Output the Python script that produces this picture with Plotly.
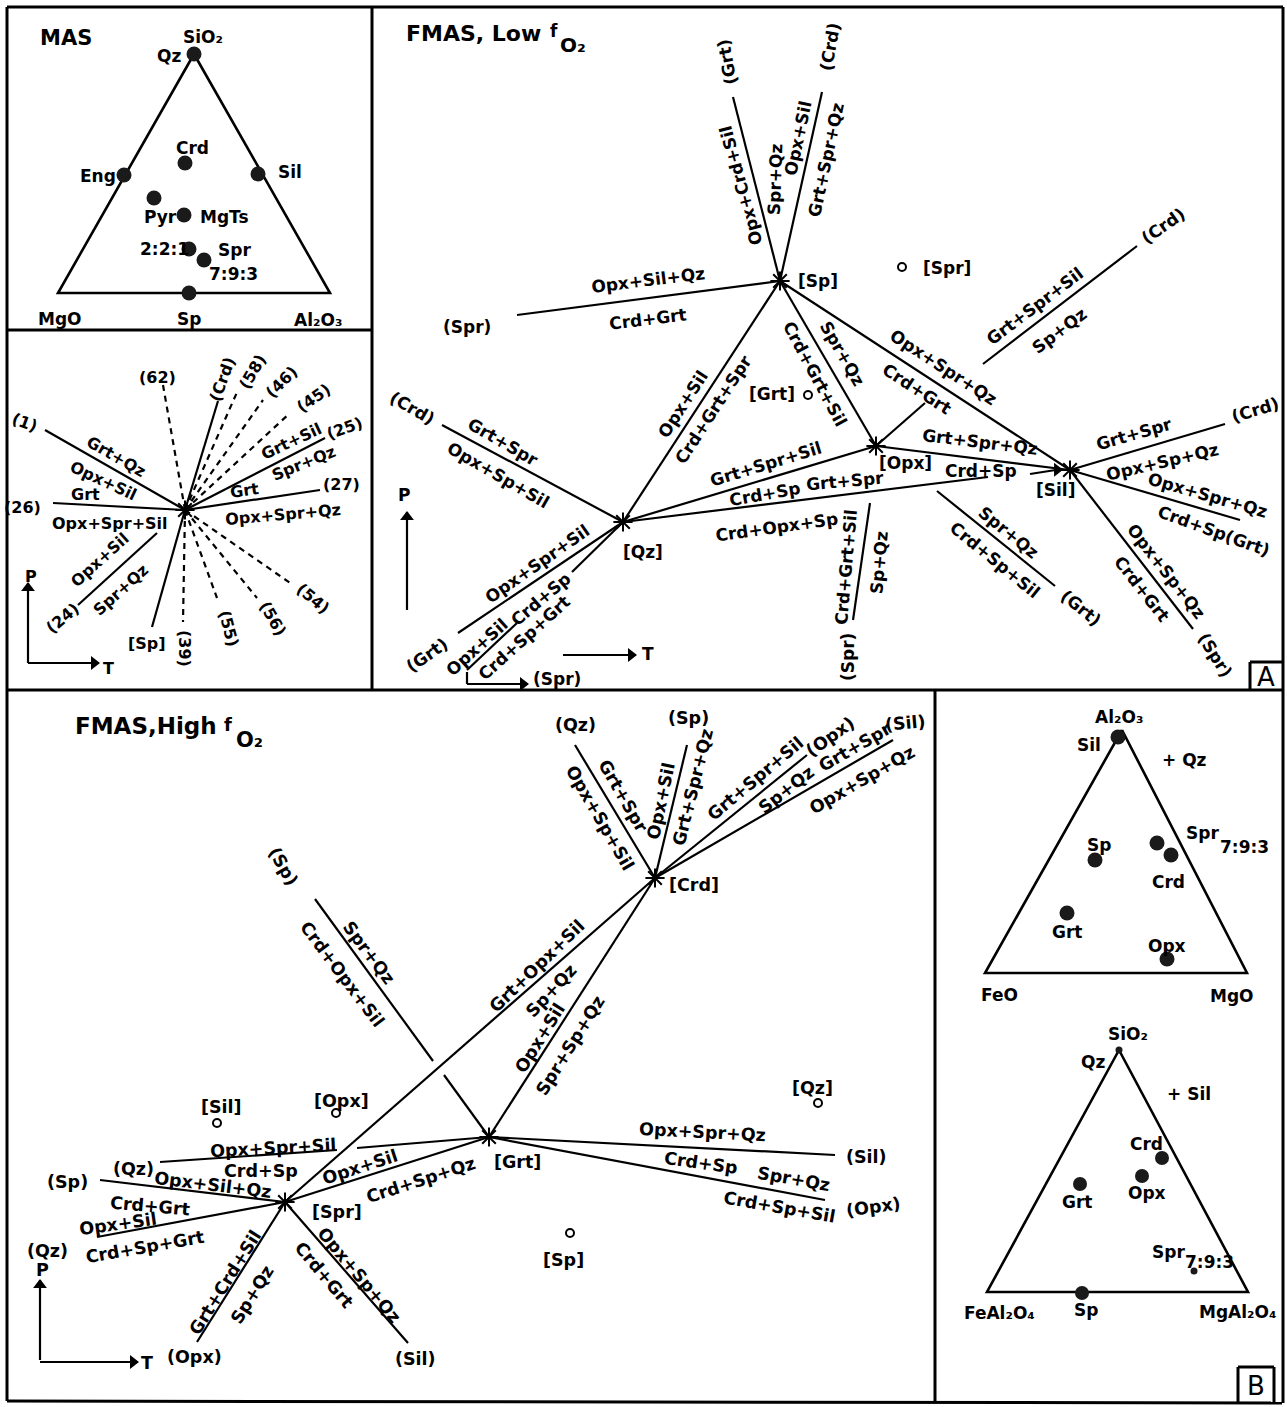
import plotly.graph_objects as go

W, H = 1287, 1407

# ---------------- frame / panel borders (x0, y0, x1, y1) ----------------
frame_segments = [
    (7, 7, 1283, 7), (7, 7, 7, 1401), (7, 1401, 1282, 1403), (1283, 7, 1283, 1403),
    (7, 690, 1283, 690), (372, 7, 372, 690), (7, 330, 372, 330), (935, 690, 935, 1403),
    (1250, 662, 1250, 690), (1250, 662, 1283, 662),
    (1238, 1367, 1238, 1403), (1238, 1367, 1274, 1367), (1274, 1367, 1274, 1403),
]
panel_letters = [("A", 1266, 677), ("B", 1256, 1386)]

# ---------------- MAS ternary ----------------
mas_triangle_x = [194, 58, 330, 194]
mas_triangle_y = [54, 293, 293, 54]
mas_phase_x = [194, 124, 258, 185, 154, 184, 189, 204, 189]
mas_phase_y = [54, 175, 174, 163, 198, 215, 249, 260, 293]
mas_labels = [
    ("SiO₂", 203, 37), ("Qz", 169, 56), ("Crd", 192, 148), ("Eng", 98, 176),
    ("Sil", 290, 172), ("Pyr", 160, 217), ("MgTs", 224, 217), ("2:2:1", 164, 249),
    ("Spr", 234, 250), ("7:9:3", 233, 274), ("MgO", 60, 319), ("Sp", 189, 319),
    ("Al₂O₃", 318, 320),
]

# ---------------- small MAS P-T grid ----------------
small_center = (185, 510)
small_solid = [
    (45, 430, 185, 510), (53, 503, 185, 510), (78, 605, 157, 533), (185, 510, 152, 627),
    (185, 510, 320, 490), (185, 510, 325, 438), (185, 510, 218, 401),
]
small_dashed = [
    (185, 510, 163, 385), (185, 510, 238, 390), (185, 510, 263, 400), (185, 510, 290, 413),
    (185, 510, 183, 622), (185, 510, 217, 598), (185, 510, 257, 598), (185, 510, 293, 585),
]
small_labels = [
    ("(62)", 157, 377, 0), ("(Crd)", 222, 379, -70), ("(58)", 252, 372, -60),
    ("(46)", 281, 382, -45), ("(45)", 313, 398, -35), ("(25)", 344, 428, -20),
    ("Grt+Sil", 291, 441, -25), ("Spr+Qz", 303, 463, -22), ("(27)", 341, 484, 0),
    ("Grt", 244, 490, -8), ("Opx+Spr+Qz", 283, 514, -5), ("(54)", 313, 598, 40),
    ("(56)", 273, 618, 60), ("(55)", 229, 628, 75), ("(39)", 185, 648, 90),
    ("[Sp]", 147, 643, 0), ("(24)", 62, 618, -40), ("Opx+Sil", 99, 560, -42),
    ("Spr+Qz", 120, 590, -42), ("(1)", 25, 422, 20), ("Grt+Qz", 116, 456, 30),
    ("Opx+Sil", 103, 480, 25), ("(26)", 22, 507, 0), ("Grt", 85, 494, 0),
    ("Opx+Spr+Sil", 110, 523, 0), ("P", 31, 576, 0), ("T", 108, 668, 0),
]

# ---------------- FMAS low fO2 (panel A) ----------------
a_points_x = [780, 623, 876, 1070]   # [Sp], [Qz], [Opx], [Sil]
a_points_y = [281, 522, 446, 470]
a_lines = [
    (780, 281, 733, 97), (780, 281, 822, 92), (780, 281, 517, 315), (780, 281, 623, 522),
    (780, 281, 876, 446), (780, 281, 1070, 470), (983, 364, 1137, 246), (876, 446, 925, 403),
    (623, 522, 442, 425), (623, 522, 458, 633), (467, 670, 517, 623), (572, 572, 623, 522),
    (623, 522, 876, 446), (623, 522, 988, 477), (876, 446, 1070, 470), (870, 503, 853, 620),
    (937, 491, 1055, 586), (1070, 470, 1225, 424), (1070, 470, 1240, 520), (1070, 470, 1193, 629),
    (467, 672, 467, 684),
]
a_open_x = [902, 808]
a_open_y = [267, 395]
a_labels = [
    ("(Grt)", 727, 62, -100), ("(Crd)", 830, 47, -80), ("Opx+Crd+Sil", 741, 186, -105),
    ("Spr+Qz", 775, 180, -88), ("Opx+Sil", 798, 138, -78), ("Grt+Spr+Qz", 826, 160, -78),
    ("[Sp]", 818, 281, 0), ("Opx+Sil+Qz", 648, 280, -7), ("Crd+Grt", 648, 319, -7),
    ("(Spr)", 467, 327, 0), ("[Spr]", 947, 268, 0), ("Grt+Spr+Sil", 1035, 306, -37),
    ("Sp+Qz", 1059, 331, -37), ("(Crd)", 1163, 226, -35), ("Opx+Spr+Qz", 943, 367, 33),
    ("Crd+Grt", 917, 389, 33), ("Opx+Sil", 683, 404, -57), ("Crd+Grt+Spr", 713, 410, -57),
    ("[Grt]", 772, 394, 0), ("Spr+Qz", 842, 353, 60), ("Crd+Grt+Sil", 815, 374, 62),
    ("(Crd)", 412, 408, 30), ("Grt+Spr", 503, 442, 30), ("Opx+Sp+Sil", 498, 475, 30),
    ("Grt+Spr+Qz", 980, 442, 7), ("[Opx]", 905, 463, 0), ("Crd+Sp", 981, 471, 0),
    ("[Sil]", 1055, 490, 0), ("Grt+Spr", 1134, 434, -16), ("(Crd)", 1255, 410, -17),
    ("Opx+Sp+Qz", 1162, 462, -13), ("Opx+Spr+Qz", 1207, 495, 16), ("Crd+Sp(Grt)", 1214, 531, 20),
    ("Opx+Sp+Qz", 1166, 571, 52), ("Crd+Grt", 1142, 589, 52), ("(Spr)", 1215, 655, 58),
    ("Spr+Qz", 1008, 532, 39), ("Crd+Sp+Sil", 995, 560, 39), ("(Grt)", 1081, 608, 39),
    ("Grt+Spr+Sil", 766, 464, -17), ("Crd+Sp", 765, 494, -10), ("Grt+Spr", 845, 481, -5),
    ("Crd+Opx+Sp", 777, 527, -8), ("Crd+Grt+Sil", 846, 567, -85), ("Sp+Qz", 879, 563, -85),
    ("(Spr)", 848, 657, -90), ("[Qz]", 643, 552, 0), ("Opx+Spr+Sil", 537, 564, -35),
    ("Crd+Sp", 541, 599, -40), ("Opx+Sil", 477, 647, -42), ("Crd+Sp+Grt", 524, 638, -42),
    ("(Grt)", 427, 655, -35), ("(Spr)", 557, 679, 0), ("P", 404, 495, 0), ("T", 648, 654, 0),
]

# ---------------- FMAS high fO2 (panel B) ----------------
b_points_x = [655, 489, 285]   # [Crd], [Grt], [Spr]
b_points_y = [878, 1137, 1202]
b_lines = [
    (655, 878, 575, 745), (655, 878, 687, 745), (655, 878, 807, 755), (655, 878, 893, 740),
    (285, 1202, 655, 878), (489, 1137, 655, 878), (489, 1137, 835, 1155), (489, 1137, 825, 1200),
    (285, 1202, 489, 1137), (315, 899, 433, 1061), (444, 1075, 489, 1137),
    (160, 1162, 337, 1150), (357, 1148, 489, 1137), (100, 1180, 285, 1202),
    (97, 1237, 285, 1202), (285, 1202, 197, 1342), (285, 1202, 408, 1343),
]
b_open_x = [217, 336, 818, 570]
b_open_y = [1123, 1113, 1103, 1233]
b_labels = [
    ("(Qz)", 575, 725, 0), ("(Sp)", 688, 718, 0), ("(Opx)", 830, 737, -35), ("(Sil)", 905, 723, -5),
    ("Opx+Sp+Sil", 600, 818, 60), ("Grt+Spr", 623, 796, 60), ("Opx+Sil", 661, 801, -78),
    ("Grt+Spr+Qz", 693, 787, -76), ("Grt+Spr+Sil", 755, 779, -40), ("Sp+Qz", 786, 790, -38),
    ("Grt+Spr", 855, 747, -30), ("Opx+Sp+Qz", 862, 780, -30), ("[Crd]", 694, 885, 0),
    ("(Sp)", 283, 866, 60), ("Spr+Qz", 369, 953, 53), ("Crd+Opx+Sil", 342, 974, 53),
    ("Grt+Opx+Sil", 537, 966, -44), ("Sp+Qz", 551, 991, -47), ("Opx+Sil", 540, 1038, -58),
    ("Spr+Sp+Qz", 570, 1046, -58), ("[Grt]", 517, 1162, 0), ("Opx+Spr+Qz", 702, 1132, 3),
    ("(Sil)", 866, 1157, 0), ("Crd+Sp", 701, 1163, 8), ("Spr+Qz", 794, 1179, 10),
    ("Crd+Sp+Sil", 779, 1207, 10), ("(Opx)", 873, 1207, -8), ("[Qz]", 812, 1088, 0),
    ("[Sil]", 221, 1107, 0), ("[Opx]", 341, 1101, 0), ("Opx+Spr+Sil", 273, 1148, -3),
    ("Crd+Sp", 261, 1171, 0), ("(Qz)", 133, 1169, 0), ("(Sp)", 67, 1182, 0),
    ("Opx+Sil+Qz", 213, 1185, 7), ("Crd+Grt", 150, 1206, 5), ("Opx+Sil", 118, 1224, -8),
    ("Crd+Sp+Grt", 145, 1247, -10), ("(Qz)", 47, 1251, 0), ("P", 42, 1270, 0),
    ("T", 147, 1363, 0), ("(Opx)", 194, 1357, 0), ("(Sil)", 415, 1359, 0),
    ("Grt+Crd+Sil", 225, 1283, -58), ("Sp+Qz", 252, 1295, -58), ("Opx+Sp+Qz", 359, 1275, 50),
    ("Crd+Grt", 324, 1275, 50), ("[Spr]", 337, 1212, 0), ("Opx+Sil", 360, 1167, -18),
    ("Crd+Sp+Qz", 421, 1180, -18), ("[Sp]", 563, 1260, 0),
]

# ---------------- arrows (tail_x, tail_y, head_x, head_y) ----------------
arrows = [
    (28, 663, 28, 583), (28, 663, 99, 663),
    (407, 610, 407, 512), (563, 655, 636, 655), (467, 684, 528, 684), (1030, 474, 1062, 469),
    (40, 1360, 40, 1280), (40, 1362, 138, 1362),
]

# ---------------- FeO-Al2O3-MgO and FeAl2O4-SiO2-MgAl2O4 ternaries ----------------
tern_top_x = [1122, 985, 1247, 1122]
tern_top_y = [730, 973, 973, 730]
tern_top_phase_x = [1118, 1095, 1157, 1171, 1067, 1167]
tern_top_phase_y = [737, 860, 843, 855, 913, 959]
tern_top_labels = [
    ("Al₂O₃", 1119, 717), ("Sil", 1089, 745), ("+ Qz", 1184, 760),
    ("Spr", 1202, 833), ("7:9:3", 1244, 847), ("Sp", 1099, 845), ("Crd", 1168, 882),
    ("Grt", 1067, 932), ("Opx", 1167, 946), ("FeO", 999, 995), ("MgO", 1232, 996),
]
tern_bot_x = [1119, 987, 1248, 1119]
tern_bot_y = [1050, 1292, 1292, 1050]
tern_bot_phase_x = [1162, 1142, 1080, 1082]
tern_bot_phase_y = [1158, 1176, 1184, 1293]
tern_bot_small_x = [1119, 1194]
tern_bot_small_y = [1050, 1271]
tern_bot_labels = [
    ("SiO₂", 1128, 1034), ("Qz", 1093, 1062), ("+ Sil", 1189, 1094),
    ("Crd", 1146, 1144), ("Opx", 1147, 1193), ("Grt", 1077, 1202), ("Spr", 1168, 1252),
    ("7:9:3", 1209, 1262), ("FeAl₂O₄", 999, 1313), ("Sp", 1086, 1310),
    ("MgAl₂O₄", 1237, 1312),
]

# titles: (text, left x, y, size)
titles = [("MAS", 38, 38, 21),
          ("FMAS, Low", 404, 33, 22), ("f", 548, 31, 17), ("O₂", 558, 45, 20),
          ("FMAS,High", 73, 726, 23), ("f", 222, 724, 18), ("O₂", 234, 740, 21)]

# ======================================================================
FONT = "DejaVu Sans"
fig = go.Figure()


def seg_trace(segs, width=2.2, dash=None):
    xs, ys = [], []
    for x0, y0, x1, y1 in segs:
        xs += [x0, x1, None]
        ys += [y0, y1, None]
    return go.Scatter(x=xs, y=ys, mode="lines", hoverinfo="skip", showlegend=False,
                      line=dict(color="black", width=width, dash=dash))


fig.add_trace(seg_trace(frame_segments, width=3))
fig.add_trace(seg_trace(small_solid))
fig.add_trace(seg_trace(small_dashed, dash="6px,5px"))
fig.add_trace(seg_trace(a_lines))
fig.add_trace(seg_trace(b_lines))
fig.add_trace(seg_trace(arrows, width=2.2))

# arrow heads
head_x, head_y, head_sym = [], [], []
for x0, y0, x1, y1 in arrows:
    dx, dy = x1 - x0, y1 - y0
    n = (dx * dx + dy * dy) ** 0.5
    head_x.append(x1 - 5 * dx / n)
    head_y.append(y1 - 5 * dy / n)
    head_sym.append("triangle-up" if abs(dy) > abs(dx) else "triangle-right")
fig.add_trace(go.Scatter(x=head_x, y=head_y, mode="markers", hoverinfo="skip", showlegend=False,
                         marker=dict(symbol=head_sym, size=12, color="black", line=dict(width=0))))

for tx, ty in [(mas_triangle_x, mas_triangle_y), (tern_top_x, tern_top_y), (tern_bot_x, tern_bot_y)]:
    fig.add_trace(go.Scatter(x=tx, y=ty, mode="lines", hoverinfo="skip", showlegend=False,
                             line=dict(color="black", width=2.6)))

dots = [(mas_phase_x, mas_phase_y, 15), (tern_top_phase_x, tern_top_phase_y, 15),
        (tern_bot_phase_x, tern_bot_phase_y, 14), (tern_bot_small_x, tern_bot_small_y, 7)]
for dx, dy, sz in dots:
    fig.add_trace(go.Scatter(x=dx, y=dy, mode="markers", hoverinfo="skip", showlegend=False,
                             marker=dict(color="#1a1a1a", size=sz, line=dict(width=0))))

inv_x = [small_center[0]] + a_points_x + b_points_x
inv_y = [small_center[1]] + a_points_y + b_points_y
fig.add_trace(go.Scatter(x=inv_x, y=inv_y, mode="markers", hoverinfo="skip", showlegend=False,
                         marker=dict(symbol="asterisk-open", size=16, color="black",
                                     line=dict(color="black", width=2))))
fig.add_trace(go.Scatter(x=a_open_x + b_open_x, y=a_open_y + b_open_y, mode="markers",
                         hoverinfo="skip", showlegend=False,
                         marker=dict(symbol="circle-open", size=8, color="black",
                                     line=dict(color="black", width=2))))

annotations = []


def add_text(text, x, y, angle=0, size=17, weight="bold", anchor="center"):
    annotations.append(dict(x=x, y=y, xref="x", yref="y", text=text, textangle=angle,
                            showarrow=False, xanchor=anchor, yanchor="middle",
                            font=dict(family=FONT, size=size, color="black", weight=weight)))


for t, x, y in mas_labels:
    add_text(t, x, y, 0, 17)
for t, x, y, a in small_labels:
    add_text(t, x, y, a, 16)
for t, x, y, a in a_labels:
    add_text(t, x, y, a, 17)
for t, x, y, a in b_labels:
    add_text(t, x, y, a, 17.5)
for t, x, y in tern_top_labels + tern_bot_labels:
    add_text(t, x, y, 0, 17)
for t, x, y, s in titles:
    add_text(t, x, y, 0, s, anchor="left")
for t, x, y in panel_letters:
    add_text(t, x, y, 0, 26, weight="normal")

fig.update_layout(
    width=W, height=H, margin=dict(l=0, r=0, t=0, b=0),
    paper_bgcolor="white", plot_bgcolor="white", showlegend=False,
    xaxis=dict(range=[0, W], visible=False, fixedrange=True),
    yaxis=dict(range=[H, 0], visible=False, fixedrange=True),
    annotations=annotations,
)
fig.write_html("out.html", config={"displayModeBar": False},
               post_script="document.body.style.margin='0px';document.body.style.overflow='hidden';")
